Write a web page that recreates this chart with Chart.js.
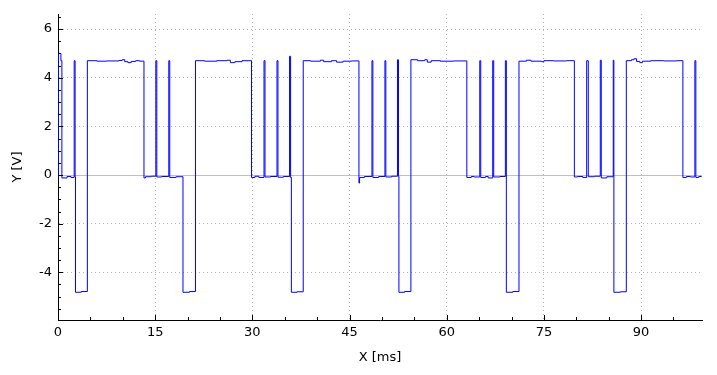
<!DOCTYPE html>
<html>
<head>
<meta charset="utf-8">
<script src="https://cdn.jsdelivr.net/npm/chart.js@4.4.1/dist/chart.umd.min.js"></script>
<style>
  html, body { margin: 0; padding: 0; background: #fff; }
  #wrap { width: 717px; height: 375px; position: relative; }
</style>
</head>
<body>
<div id="wrap"><canvas id="chart"></canvas></div>
<script>
// sampled signal: each value holds until the next time (stepped line)
const times = [
  0, 0.08, 0.45, 0.6, 1.4, 2.0, 2.5, 2.64, 2.7, 3.6,
  4.53, 6.0, 7.5, 9.4, 9.9, 10.3, 10.8, 11.3, 12.0, 12.6,
  13.27, 13.5, 14.4, 15.1, 15.25, 16.0, 17.1, 17.25, 18.2, 19.29, 20.3,
  21.22, 22.6, 24.5, 26.1, 26.6, 27.3, 28.4,
  29.87, 30.4, 31.0, 31.8, 31.95, 32.8, 33.8, 33.95, 34.8, 35.74, 35.9, 36.02, 36.9,
  37.85, 39.0, 40.5, 41.0, 42.2, 43.0, 44.0, 45.3,
  46.45, 46.55, 47.3, 48.46, 48.6, 49.5, 50.46, 50.6, 51.5, 52.4, 52.55, 52.62, 53.5,
  54.47, 55.5, 56.6, 57.0, 57.6, 59.0, 61.0,
  63.1, 63.8, 64.2, 65.1, 65.25, 66.0, 66.4, 67.1, 67.25, 68.2, 69.05, 69.2, 70.2,
  71.15, 72.3, 73.0, 74.6, 75.0, 76.5, 78.5,
  79.7, 80.2, 81.0, 81.6, 81.85, 82.8, 83.7, 83.85, 84.7, 85.7, 85.8, 86.8,
  87.72, 88.5, 88.9, 89.3, 89.8, 90.2, 91.5, 93.5, 95.5,
  96.45, 97.0, 97.6, 98.3, 98.45, 98.9, 99.3
];
const volts = [
  -0.05, 5.0, 4.7, -0.12, -0.06, -0.1, 4.7, -0.08, -4.82, -4.79,
  4.7, 4.68, 4.69, 4.71, 4.74, 4.66, 4.62, 4.67, 4.7, 4.68,
  -0.12, -0.07, -0.05, 4.7, -0.08, -0.06, 4.7, -0.1, -0.07, -4.82, -4.79,
  4.7, 4.68, 4.7, 4.72, 4.62, 4.66, 4.7,
  -0.1, -0.05, -0.1, 4.7, -0.08, -0.06, 4.7, -0.09, -0.06, 4.88, -0.1, -4.82, -4.8,
  4.7, 4.68, 4.72, 4.66, 4.7, 4.64, 4.68, 4.69,
  -0.33, -0.1, -0.06, 4.7, -0.1, -0.06, 4.7, -0.08, -0.05, 4.74, -0.05, -4.82, -4.79,
  4.74, 4.7, 4.74, 4.64, 4.7, 4.68, 4.69,
  -0.1, -0.06, -0.08, 4.7, -0.1, -0.06, -0.12, 4.7, -0.08, -0.06, 4.7, -4.82, -4.79,
  4.68, 4.72, 4.68, 4.66, 4.7, 4.69, 4.7,
  -0.08, -0.06, -0.1, 4.7, -0.07, -0.05, 4.72, -0.12, -0.07, 4.72, -4.82, -4.8,
  4.7, 4.74, 4.78, 4.67, 4.62, 4.68, 4.7, 4.69, 4.7,
  -0.1, -0.06, -0.08, 4.7, -0.1, -0.06, -0.08
];

const xTicks = [0, 15, 30, 45, 60, 75, 90];
const yTicks = [-4, -2, 0, 2, 4, 6];
const xMinorStep = 5;
const yMinorStep = 0.5;

Chart.defaults.font.family = "'DejaVu Sans', sans-serif";
Chart.defaults.font.size = 13;
Chart.defaults.color = '#000';

// zero line + inward tick marks like the original plot
const axisDecor = {
  id: 'axisDecor',
  beforeDatasetsDraw(chart) {
    const { ctx, chartArea, scales: { y } } = chart;
    const py = Math.round(y.getPixelForValue(0)) + 0.5;
    ctx.save();
    ctx.strokeStyle = '#c0c0c0';
    ctx.lineWidth = 1;
    ctx.beginPath();
    ctx.moveTo(chartArea.left, py);
    ctx.lineTo(chartArea.right, py);
    ctx.stroke();
    ctx.restore();
  },
  afterDraw(chart) {
    const { ctx, chartArea, scales: { x, y } } = chart;
    ctx.save();
    ctx.strokeStyle = '#000';
    ctx.lineWidth = 1;
    ctx.beginPath();
    for (let v = Math.ceil(y.min / yMinorStep) * yMinorStep; v <= y.max; v += yMinorStep) {
      const py = Math.round(y.getPixelForValue(v)) + 0.5;
      const len = yTicks.includes(Math.round(v * 100) / 100) ? 5 : 3;
      ctx.moveTo(chartArea.left, py);
      ctx.lineTo(chartArea.left + len, py);
    }
    for (let t = xMinorStep; t <= x.max; t += xMinorStep) {
      const px = Math.round(x.getPixelForValue(t)) + 0.5;
      const len = xTicks.includes(t) ? 5 : 3;
      ctx.moveTo(px, chartArea.bottom);
      ctx.lineTo(px, chartArea.bottom - len);
    }
    ctx.stroke();
    ctx.restore();
  }
};

const points = times.map((t, i) => ({ x: t, y: volts[i] }));

new Chart(document.getElementById('chart'), {
  type: 'line',
  data: {
    datasets: [{
      data: points,
      borderColor: '#0000ff',
      borderWidth: 1,
      pointRadius: 0,
      stepped: true,
      fill: false
    }]
  },
  options: {
    responsive: true,
    maintainAspectRatio: false,
    animation: false,
    layout: { padding: { top: 14, right: 15, left: 0, bottom: 0 } },
    plugins: { legend: { display: false }, tooltip: { enabled: false } },
    scales: {
      x: {
        type: 'linear',
        min: 0,
        max: 99.4,
        afterBuildTicks: (s) => { s.ticks = xTicks.map(v => ({ value: v })); },
        afterFit: (s) => { s.height = 55; },
        ticks: { padding: 5, autoSkip: false, maxRotation: 0 },
        grid: {
          drawTicks: false,
          color: (c) => (c.tick && c.tick.value !== 0 ? '#b4b4b4' : 'rgba(0,0,0,0)')
        },
        border: { color: '#000', width: 1, dash: [1, 3] },
        title: { display: true, text: 'X [ms]', padding: { top: 0, bottom: 10 } }
      },
      y: {
        min: -5.96,
        max: 6.62,
        afterBuildTicks: (s) => { s.ticks = yTicks.map(v => ({ value: v })); },
        afterFit: (s) => { s.width = 58; },
        ticks: { padding: 6, autoSkip: false },
        grid: {
          drawTicks: false,
          color: (c) => (c.tick && c.tick.value !== 0 ? '#b4b4b4' : 'rgba(0,0,0,0)')
        },
        border: { color: '#000', width: 1, dash: [1, 3] },
        title: { display: true, text: 'Y [V]', padding: { top: 10, bottom: 0 } }
      }
    }
  },
  plugins: [axisDecor]
});
</script>
</body>
</html>
